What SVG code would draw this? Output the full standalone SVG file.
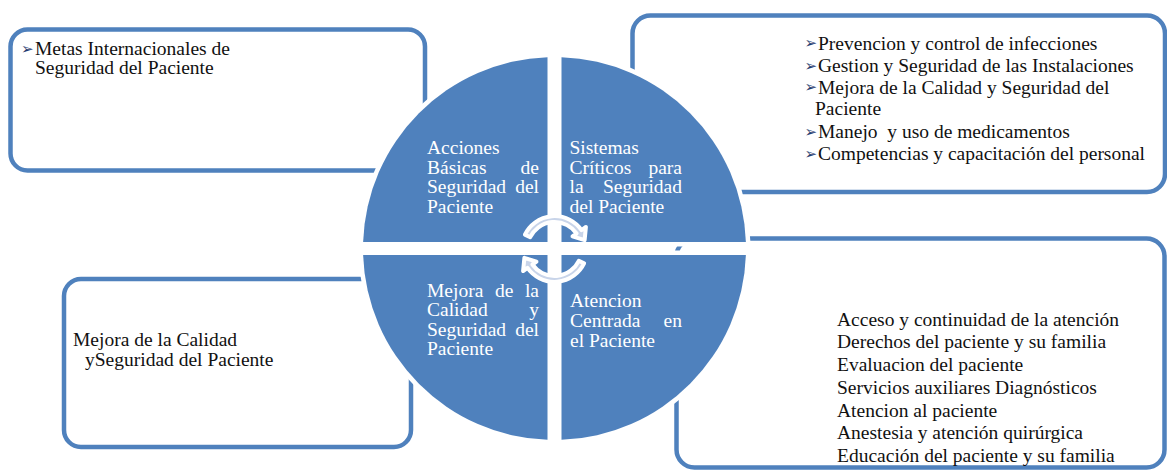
<svg xmlns="http://www.w3.org/2000/svg" width="1167" height="470" viewBox="0 0 1167 470">
<style>
.box{fill:#FFFFFF;stroke:#4F81BD;stroke-width:4.5}
.halo{fill:none;stroke:#FFFFFF;stroke-width:9}
.q{fill:#4F81BD}
.t{font-family:"Liberation Serif","DejaVu Serif",serif;font-size:19.5px;fill:#111111;white-space:pre}
.w{font-family:"Liberation Serif","DejaVu Serif",serif;font-size:19.5px;fill:#FFFFFF}
.b{font-family:"DejaVu Sans",sans-serif;font-size:15px;fill:#1F3A6E}
.arr{fill:#C8D4E9;stroke:#FFFFFF;stroke-width:4;stroke-linejoin:round}
</style>
<rect width="1167" height="470" fill="#FFFFFF"/>
<g id="box-metas">
<rect class="box" x="10.5" y="29.5" width="414.5" height="141" rx="17"/>
<text class="b" x="21" y="53.5">➢</text>
<text class="t" x="35" y="55">Metas Internacionales de</text>
<text class="t" x="35" y="74">Seguridad del Paciente</text>
</g>
<g id="box-sistemas">
<rect class="box" x="632.5" y="15.5" width="532.5" height="176.5" rx="18"/>
<text class="b" x="804.5" y="48">➢</text>
<text class="t" x="818" y="49.5">Prevencion y control de infecciones</text>
<text class="b" x="804.5" y="70.5">➢</text>
<text class="t" x="818" y="72">Gestion y Seguridad de las Instalaciones</text>
<text class="b" x="804.5" y="92">➢</text>
<text class="t" x="818" y="93.5">Mejora de la Calidad y Seguridad del</text>
<text class="t" x="815" y="115">Paciente</text>
<text class="b" x="804.5" y="136.5">➢</text>
<text class="t" x="818" y="138" xml:space="preserve">Manejo  y uso de medicamentos</text>
<text class="b" x="804.5" y="158.5">➢</text>
<text class="t" x="818" y="160">Competencias y capacitación del personal</text>
</g>
<g id="box-atencion">
<rect class="box" x="676.5" y="238.5" width="488" height="229" rx="18"/>
<text class="t" x="837" y="325.5">Acceso y continuidad de la atención</text>
<text class="t" x="837" y="348.3">Derechos del paciente y su familia</text>
<text class="t" x="837" y="371">Evaluacion del paciente</text>
<text class="t" x="837" y="393.8">Servicios auxiliares Diagnósticos</text>
<text class="t" x="837" y="416.6">Atencion al paciente</text>
<text class="t" x="837" y="439.4">Anestesia y atención quirúrgica</text>
<text class="t" x="837" y="462.2">Educación del paciente y su familia</text>
</g>
<g id="box-mejora">
<rect class="box" x="64" y="279" width="347" height="168" rx="17"/>
<text class="t" x="73" y="346">Mejora de la Calidad</text>
<text class="t" x="85" y="366">ySeguridad del Paciente</text>
</g>
<g id="cycle-halo">
<path class="halo" d="M547.5,242 L363.11,242 A191.5,191.5 0 0 1 547.5,57.13 Z"/>
<path class="halo" d="M561.5,242 L561.5,57.13 A191.5,191.5 0 0 1 745.89,242 Z"/>
<path class="halo" d="M561.5,255 L745.89,255 A191.5,191.5 0 0 1 561.5,439.87 Z"/>
<path class="halo" d="M547.5,255 L547.5,439.87 A191.5,191.5 0 0 1 363.11,255 Z"/>
</g>
<g id="q-acciones">
<path class="q" d="M547.5,242 L363.11,242 A191.5,191.5 0 0 1 547.5,57.13 Z"/>
<text class="w" x="427" y="154">Acciones</text>
<text class="w" x="427" y="173.5">Básicas</text>
<text class="w" x="539" y="173.5" text-anchor="end">de</text>
<text class="w" x="427" y="193">Seguridad</text>
<text class="w" x="539" y="193" text-anchor="end">del</text>
<text class="w" x="427" y="212.7">Paciente</text>
</g>
<g id="q-sistemas">
<path class="q" d="M561.5,242 L561.5,57.13 A191.5,191.5 0 0 1 745.89,242 Z"/>
<text class="w" x="569.5" y="154">Sistemas</text>
<text class="w" x="569.5" y="173.5">Críticos</text>
<text class="w" x="682" y="173.5" text-anchor="end">para</text>
<text class="w" x="569.5" y="193">la</text>
<text class="w" x="682" y="193" text-anchor="end">Seguridad</text>
<text class="w" x="569.5" y="212.7">del Paciente</text>
</g>
<g id="q-atencion">
<path class="q" d="M561.5,255 L745.89,255 A191.5,191.5 0 0 1 561.5,439.87 Z"/>
<text class="w" x="570" y="306.7">Atencion</text>
<text class="w" x="570" y="326.7">Centrada</text>
<text class="w" x="682" y="326.7" text-anchor="end">en</text>
<text class="w" x="570" y="346.7">el Paciente</text>
</g>
<g id="q-mejora">
<path class="q" d="M547.5,255 L547.5,439.87 A191.5,191.5 0 0 1 363.11,255 Z"/>
<text class="w" x="427" y="296.7">Mejora</text>
<text class="w" x="495" y="296.7">de</text>
<text class="w" x="539" y="296.7" text-anchor="end">la</text>
<text class="w" x="427" y="316">Calidad</text>
<text class="w" x="539" y="316" text-anchor="end">y</text>
<text class="w" x="427" y="335.5">Seguridad</text>
<text class="w" x="539" y="335.5" text-anchor="end">del</text>
<text class="w" x="427" y="355">Paciente</text>
</g>
<g id="connectors">
<path id="arrow-top" class="arr" d="M524.9,234.6 A33,33 0 0 1 581.5,230.1 L585.9,227 L584.6,240.2 L572.5,236.4 L576.6,233.5 A27,27 0 0 0 530.2,237.2 Z"/>
<path id="arrow-bottom" class="arr" transform="rotate(180 554.5 249)" d="M524.9,234.6 A33,33 0 0 1 581.5,230.1 L585.9,227 L584.6,240.2 L572.5,236.4 L576.6,233.5 A27,27 0 0 0 530.2,237.2 Z"/>
</g>
</svg>
